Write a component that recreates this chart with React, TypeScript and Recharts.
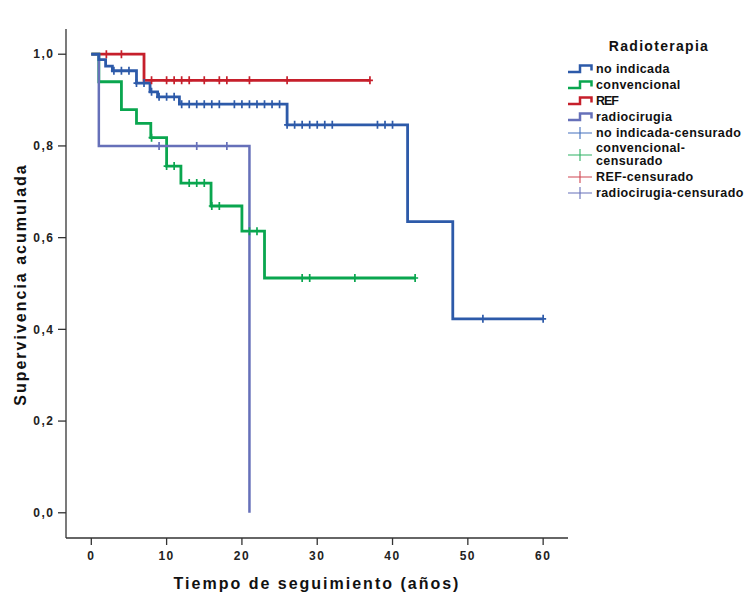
import { ComposedChart, Line, Scatter, XAxis, YAxis, Legend } from 'recharts';

const FONT = '"Liberation Sans", Arial, Helvetica, sans-serif';

const xTicks = [0, 10, 20, 30, 40, 50, 60];
const yTicks = [0, 0.2, 0.4, 0.6, 0.8, 1.0];

// Kaplan-Meier steps: time (years) where the estimate changes, and the new level
const noIndicadaTimes = [0, 1, 1.9, 2.8, 6, 7.8, 8.8, 11.7, 26, 42, 48, 60];
const noIndicadaSurvival = [1, 0.988, 0.974, 0.964, 0.937, 0.918, 0.907, 0.891, 0.846, 0.635, 0.423, 0.423];
const noIndicadaCensored = [3, 4, 5, 6, 7, 8, 9, 10, 11, 12, 13, 14, 15, 16, 17, 19, 20, 21, 22, 23, 24, 25, 26, 27, 28, 29, 30, 31, 32, 38, 39, 40, 52, 60];

const convencionalTimes = [0, 1, 4, 6, 7.9, 10, 11.9, 15.9, 20, 23, 43];
const convencionalSurvival = [1, 0.94, 0.879, 0.849, 0.818, 0.756, 0.719, 0.669, 0.614, 0.512, 0.512];
const convencionalCensored = [8, 10, 11, 13, 14, 15, 16, 17, 21, 22, 28, 29, 35, 43];

const refTimes = [0, 7, 37];
const refSurvival = [1, 0.943, 0.943];
const refCensored = [2, 4, 8, 10, 11, 12, 13, 15, 17, 18, 21, 26, 37];

const radiocirugiaTimes = [0, 1, 21];
const radiocirugiaSurvival = [1, 0.8, 0];
const radiocirugiaCensored = [9, 14, 18];

type Pt = { t: number; s: number };

const toSteps = (times: number[], surv: number[]): Pt[] => times.map((t, i) => ({ t, s: surv[i] }));

// censored cases sit on the curve level in force at their time
const levelAt = (times: number[], surv: number[], t: number) => {
  let s = surv[0];
  times.forEach((tt, i) => {
    if (tt <= t) s = surv[i];
  });
  return s;
};
const toCensored = (times: number[], surv: number[], cens: number[]): Pt[] =>
  cens.map(t => ({ t, s: levelAt(times, surv, t) }));

const groups = [
  { name: 'no indicada', times: noIndicadaTimes, surv: noIndicadaSurvival, cens: noIndicadaCensored, color: '#2d5aa9', mark: '#4470bd', width: 2.8 },
  { name: 'convencional', times: convencionalTimes, surv: convencionalSurvival, cens: convencionalCensored, color: '#0aa64f', mark: '#2fb265', width: 2.8 },
  { name: 'REF', times: refTimes, surv: refSurvival, cens: refCensored, color: '#c61f2b', mark: '#d04652', width: 2.8 },
  { name: 'radiocirugia', times: radiocirugiaTimes, surv: radiocirugiaSurvival, cens: radiocirugiaCensored, color: '#6670b9', mark: '#6670b9', width: 2.5 },
];

// draw order: REF under convencional under radiocirugia under no indicada
const drawOrder = ['REF', 'convencional', 'radiocirugia', 'no indicada'];

const censorShape = (color: string) => (props: any) => {
  const { cx, cy } = props;
  return (
    <path
      d={`M${cx},${cy - 4}V${cy + 4}M${cx - 3},${cy}H${cx + 3}`}
      stroke={color}
      strokeWidth={1.7}
      fill="none"
    />
  );
};

const fmt = (v: number) => v.toFixed(1).replace('.', ',');

function StepIcon({ color }: { color: string }) {
  return (
    <svg width={26} height={14} style={{ display: 'block', marginRight: 3, flex: 'none' }}>
      <path d="M1,10H13V3.5H24.5V8.5" stroke={color} strokeWidth={2.5} fill="none" />
    </svg>
  );
}

function CrossIcon({ color }: { color: string }) {
  return (
    <svg width={26} height={14} style={{ display: 'block', marginRight: 3, flex: 'none' }}>
      <path d="M1,7H25M13,1V13" stroke={color} strokeWidth={1.1} fill="none" />
    </svg>
  );
}

function KMLegend() {
  const row = { display: 'flex', alignItems: 'center', height: 15.8 } as const;
  return (
    <div style={{ fontFamily: FONT, fontWeight: 'bold', color: '#111', fontSize: 12.5, letterSpacing: 0.4 }}>
      <div style={{ textAlign: 'center', fontSize: 14, letterSpacing: 1.3, lineHeight: '20px', marginBottom: 5.5, paddingLeft: 4 }}>
        Radioterapia
      </div>
      {groups.map(g => (
        <div key={g.name} style={row}>
          <StepIcon color={g.color} />
          <span style={g.name === 'REF' ? { letterSpacing: -1 } : undefined}>{g.name}</span>
        </div>
      ))}
      {groups.map(g =>
        g.name === 'convencional' ? (
          <div key={g.name + 'c'} style={{ ...row, height: 29 }}>
            <CrossIcon color={g.mark} />
            <span style={{ lineHeight: '12.5px' }}>
              {g.name}-<br />censurado
            </span>
          </div>
        ) : (
          <div key={g.name + 'c'} style={row}>
            <CrossIcon color={g.mark} />
            <span>{g.name}-censurado</span>
          </div>
        )
      )}
    </div>
  );
}

const tickStyle = { fontSize: 12, fontWeight: 'bold', fill: '#222', fontFamily: FONT, letterSpacing: 1.5 };
const frame = { stroke: '#333', strokeWidth: 1.3 };

export default function App() {
  const ordered = drawOrder.map(n => groups.find(g => g.name === n)!);
  return (
    <div style={{ position: 'absolute', left: 0, top: 0, background: '#fff' }}>
      <ComposedChart width={747} height={597} margin={{ top: 29, right: 179, bottom: 0, left: 0 }}>
        <XAxis
          xAxisId={0}
          type="number"
          dataKey="t"
          domain={[-3.36, 63.3]}
          ticks={xTicks}
          allowDataOverflow
          height={59}
          tickSize={7}
          tickMargin={6.5}
          tick={tickStyle}
          axisLine={frame}
          tickLine={frame}
          label={() => (
            <text x={317} y={588.5} textAnchor="middle" fontFamily={FONT} fontWeight="bold" fontSize={16} letterSpacing={2} fill="#111">
              Tiempo de seguimiento (años)
            </text>
          )}
        />
        <XAxis
          xAxisId="top"
          orientation="top"
          type="number"
          domain={[-3.36, 63.3]}
          allowDataOverflow
          height={0}
          tick={false}
          tickLine={false}
          axisLine={frame}
          label={() => (
            <text x={374} y={21.5} textAnchor="middle" fontFamily={FONT} fontWeight="bold" fontSize={14} letterSpacing={1.5} fill="#111">
              Radioterapia
            </text>
          )}
        />
        <YAxis
          yAxisId={0}
          type="number"
          domain={[-0.055, 1.055]}
          ticks={yTicks}
          allowDataOverflow
          width={66}
          tickSize={8}
          tickMargin={3.5}
          tickFormatter={fmt}
          tick={tickStyle}
          axisLine={frame}
          tickLine={frame}
          label={() => (
            <text
              x={20}
              y={284.5}
              transform="rotate(-90 20 284.5)"
              textAnchor="middle"
              dominantBaseline="central"
              fontFamily={FONT}
              fontWeight="bold"
              fontSize={16}
              letterSpacing={2}
              fill="#111"
            >
              Supervivencia acumulada
            </text>
          )}
        />
        <YAxis
          yAxisId="right"
          orientation="right"
          type="number"
          domain={[-0.055, 1.055]}
          allowDataOverflow
          width={0}
          tick={false}
          tickLine={false}
          axisLine={frame}
        />
        <Legend
          content={() => <KMLegend />}
          layout="vertical"
          align="center"
          verticalAlign="middle"
          wrapperStyle={{ left: 567, top: 36, width: 180 }}
        />
        {ordered.flatMap(g => [
          <Line
            key={g.name}
            data={toSteps(g.times, g.surv)}
            dataKey="s"
            type="stepAfter"
            stroke={g.color}
            strokeWidth={g.width}
            dot={false}
            activeDot={false}
            isAnimationActive={false}
          />,
          <Scatter
            key={g.name + '-cens'}
            data={toCensored(g.times, g.surv, g.cens)}
            dataKey="s"
            shape={censorShape(g.color)}
            isAnimationActive={false}
          />,
        ])}
      </ComposedChart>
    </div>
  );
}
